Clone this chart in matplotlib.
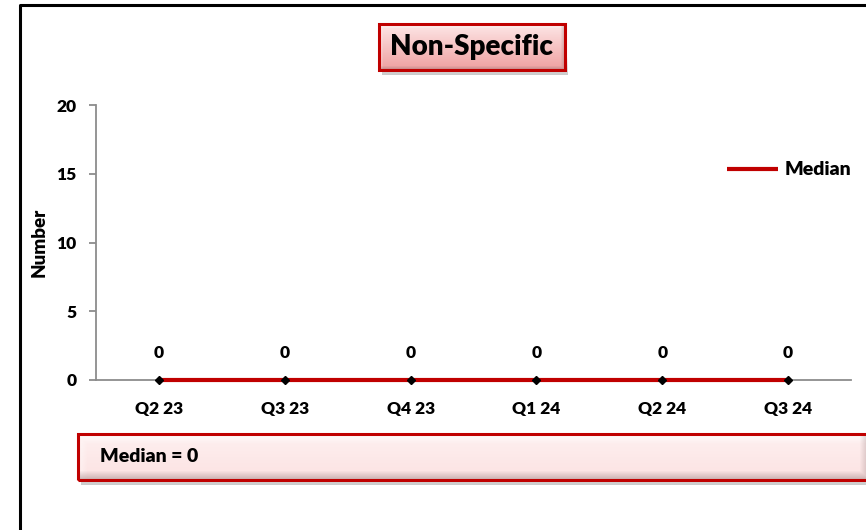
import numpy as np
import matplotlib
matplotlib.use('Agg')
import matplotlib.pyplot as plt
from matplotlib.patches import Rectangle
from matplotlib.lines import Line2D

categories = ['Q2 23', 'Q3 23', 'Q4 23', 'Q1 24', 'Q2 24', 'Q3 24']
values = [0, 0, 0, 0, 0, 0]
median_values = [0, 0, 0, 0, 0, 0]
median_label = 'Median = 0'
title_text = 'Non-Specific'
y_ticks = [0, 5, 10, 15, 20]

W, H = 866, 530
plt.rcParams['font.family'] = ['Lato', 'DejaVu Sans']
WT = 'heavy'
fig = plt.figure(figsize=(W / 100, H / 100), dpi=100)


def fx(px):
    return px / W


def fy(py):
    return 1 - py / H


def bevel_box(x0, y0, x1, y1, top_col, bot_col, bevel=7, shadow=True, z=1):
    if shadow:
        sax = fig.add_axes([fx(x0 + 3), fy(y1 + 5), fx(x1 - x0), fy(y0) - fy(y1)], zorder=z)
        sax.set_axis_off()
        h = int(y1 - y0); w = int(x1 - x0)
        a = np.zeros((h, w, 4))
        a[..., :3] = 0.5
        yy = np.linspace(0, 1, h)[:, None]
        a[..., 3] = 0.4 * np.clip((yy - 0.6) / 0.4, 0, 1) * np.ones((1, w))
        sax.imshow(a, aspect='auto', extent=[0, 1, 0, 1], interpolation='bilinear')
    bax = fig.add_axes([fx(x0), fy(y1), fx(x1) - fx(x0), fy(y0) - fy(y1)], zorder=z + 1)
    bax.set_axis_off()
    h = int(y1 - y0); w = int(x1 - x0)
    t = np.linspace(0, 1, h)[:, None, None]
    tc = np.array(matplotlib.colors.to_rgb(top_col))[None, None, :]
    bc = np.array(matplotlib.colors.to_rgb(bot_col))[None, None, :]
    img = tc * (1 - t) + bc * t
    img = np.repeat(img, w, axis=1)
    yi = np.arange(h)[:, None]
    xi = np.arange(w)[None, :]
    top = np.clip(1 - yi / bevel, 0, 1)
    bot = np.clip(1 - (h - 1 - yi) / bevel, 0, 1)
    lef = np.clip(1 - xi / bevel, 0, 1)
    rig = np.clip(1 - (w - 1 - xi) / bevel, 0, 1)
    light = np.maximum(top, lef * 0.6)[..., None]
    dark = np.maximum(bot, rig * 0.8)[..., None]
    img = img * (1 - light * 0.8) + light * 0.8
    img = img * (1 - dark * 0.45) + np.array([0.55, 0.45, 0.45])[None, None, :] * dark * 0.45
    bax.imshow(np.clip(img, 0, 1), aspect='auto', extent=[0, 1, 0, 1], interpolation='bilinear')
    bax.add_patch(Rectangle((0, 0), 1, 1, transform=bax.transAxes, fill=False,
                            edgecolor='#C00000', lw=2.2, clip_on=False))
    return bax


# outer frame (left and top lines)
fig.add_artist(Line2D([fx(20), fx(20), 1.0], [0.0, fy(5), fy(5)], transform=fig.transFigure,
                      color='black', lw=2.2))

ax = fig.add_axes([fx(96), fy(380), fx(851) - fx(96), fy(105) - fy(380)])
x = np.arange(len(categories))
ax.set_xlim(-0.5, len(categories) - 0.5)
ax.set_ylim(0, 20)
ax.plot(x, median_values, color='#C00000', lw=3, label='Median', zorder=3,
        solid_capstyle='butt', clip_on=False)
ax.plot(x, values, ls='none', marker='D', ms=4.5, color='black', zorder=4, clip_on=False)
for xi, v in zip(x, values):
    ax.annotate(str(v), (xi, v), xytext=(0, 19.5), textcoords='offset points',
                ha='center', va='center', fontsize=12.5, fontweight=WT)

for s in ['top', 'right']:
    ax.spines[s].set_visible(False)
for s in ['left', 'bottom']:
    ax.spines[s].set_color('#8c8c8c')
    ax.spines[s].set_linewidth(1.3)
ax.set_yticks(y_ticks)
ax.set_xticks(x)
ax.set_xticklabels(categories)
ax.tick_params(axis='y', direction='out', length=5, width=1.3, color='#8c8c8c', pad=9,
               labelsize=12.5)
ax.tick_params(axis='x', length=0, pad=15, labelsize=12.5)
for lab in ax.get_xticklabels() + ax.get_yticklabels():
    lab.set_fontweight(WT)
ax.set_ylabel('Number', fontsize=13.5, fontweight=WT, labelpad=6)
ax.patch.set_alpha(0)

leg = ax.legend(loc='center left', bbox_to_anchor=(fx(727), fy(170)),
                bbox_transform=fig.transFigure, frameon=False, handlelength=2.6,
                handletextpad=0.35, borderpad=0, borderaxespad=0,
                prop={'weight': WT, 'size': 14})

# title box
tb = bevel_box(379, 24, 565, 70, '#FDE6E6', '#EFA0A0', bevel=4)
tb.text(0.5, 0.5, title_text, ha='center', va='center', fontsize=20, fontweight=WT,
        transform=tb.transAxes)

# median box
mb = bevel_box(78, 434, 868, 480, '#FEF0F0', '#FCE2E2', bevel=9)
mb.text(22 / 790, 0.5, median_label, ha='left', va='center', fontsize=14,
        fontweight=WT, transform=mb.transAxes)

fig.savefig('out.png', dpi=100)
